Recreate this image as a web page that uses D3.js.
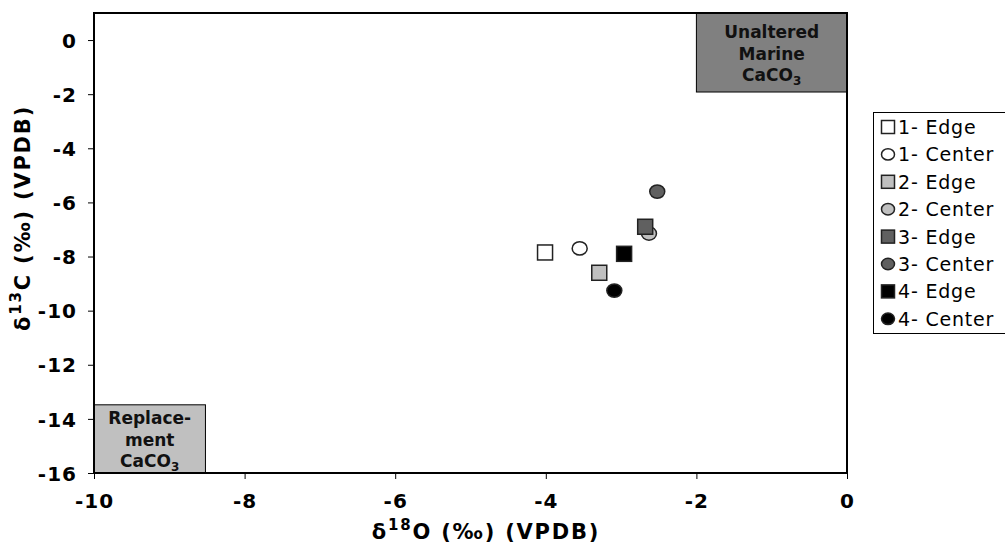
<!DOCTYPE html>
<html><head><meta charset="utf-8">
<script src="https://cdn.jsdelivr.net/npm/d3@7"></script>
<style>body{margin:0;background:#fff;} svg{display:block;}</style>
</head><body>
<script>
const seriesNames = ["1- Edge","1- Center","2- Edge","2- Center","3- Edge","3- Center","4- Edge","4- Center"];
const seriesShapes = ["square","circle","square","circle","square","circle","square","circle"];
const seriesFills = ["#ffffff","#ffffff","#c0c0c0","#c0c0c0","#606060","#606060","#000000","#000000"];
const d18O = [-4.01,-3.55,-3.29,-2.63,-2.68,-2.52,-2.96,-3.09];
const d13C = [-7.85,-7.7,-8.6,-7.15,-6.9,-5.6,-7.9,-9.26];
const xTicks = [-10,-8,-6,-4,-2,0];
const yTicks = [0,-2,-4,-6,-8,-10,-12,-14,-16];
const boxLabels = [["Unaltered","Marine","CaCO3"],["Replace-","ment","CaCO3"]];
const boxX = [[-2,0],[-10,-8.52]];
const boxY = [[1,-1.92],[-13.48,-16]];
const boxFills = ["#808080","#c0c0c0"];

const W=1005,H=545;
const svg=d3.select("body").append("svg").attr("width",W).attr("height",H);
const L=94,R=847,T=13,B=473;
const x=d3.scaleLinear().domain([-10,0]).range([L,R]);
const y=d3.scaleLinear().domain([-16,1]).range([B,T]);
const font="'DejaVu Sans', Verdana, sans-serif";
const fmt=d=>String(d);

// boxes
boxLabels.forEach((lab,i)=>{
  const x0=x(boxX[i][0]), x1=x(boxX[i][1]), y0=y(boxY[i][0]), y1=y(boxY[i][1]);
  svg.append("rect").attr("x",x0).attr("y",y0).attr("width",x1-x0).attr("height",y1-y0)
    .attr("fill",boxFills[i]).attr("stroke","#000").attr("stroke-width",1);
  const cx=(x0+x1)/2, cy=(y0+y1)/2;
  lab.forEach((t,j)=>{
    const tx=svg.append("text").attr("x",cx).attr("y",cy+(j-1)*21.5+7).attr("text-anchor","middle")
      .attr("font-family",font).attr("font-weight","bold").attr("font-size",17).attr("fill","#111");
    if(t==="CaCO3"){ tx.text("CaCO"); tx.append("tspan").attr("font-size",12).attr("dy",4).text("3"); }
    else tx.text(t);
  });
});

// frame
svg.append("rect").attr("x",L).attr("y",T).attr("width",R-L).attr("height",B-T)
  .attr("fill","none").attr("stroke","#000").attr("stroke-width",2);

// axes
const xa=svg.append("g").attr("transform",`translate(0,${B})`)
  .call(d3.axisBottom(x).tickValues(xTicks).tickSize(6).tickFormat(fmt));
const ya=svg.append("g").attr("transform",`translate(${L},0)`)
  .call(d3.axisLeft(y).tickValues(yTicks).tickSize(6).tickFormat(fmt));
[xa,ya].forEach(a=>{
  a.select(".domain").remove();
  a.selectAll("line").attr("stroke","#000").attr("stroke-width",1);
  a.selectAll("text").attr("font-family",font).attr("font-weight","bold").attr("font-size",20)
    .attr("letter-spacing",1).attr("fill","#000");
});
xa.selectAll("text").attr("dy",0).attr("y",35);
ya.selectAll("text").attr("x",-17).attr("dy","0.36em");

// axis titles
const xt=svg.append("text").attr("x",486).attr("y",539).attr("text-anchor","middle")
  .attr("font-family",font).attr("font-weight","bold").attr("font-size",21).attr("letter-spacing",1.8);
xt.append("tspan").text("δ");
xt.append("tspan").attr("font-size",15).attr("dy",-9).text("18");
xt.append("tspan").attr("dy",9).text("O (‰) (VPDB)");
const yt=svg.append("text").attr("transform",`translate(30,218) rotate(-90)`).attr("text-anchor","middle")
  .attr("font-family",font).attr("font-weight","bold").attr("font-size",21).attr("letter-spacing",1.8);
yt.append("tspan").text("δ");
yt.append("tspan").attr("font-size",15).attr("dy",-9).text("13");
yt.append("tspan").attr("dy",9).text("C (‰) (VPDB)");

// marker
function drawMarker(g,shape,cx,cy,fill,s){
  if(shape==="square") g.append("rect").attr("x",cx-s/2).attr("y",cy-s/2).attr("width",s).attr("height",s)
    .attr("fill",fill).attr("stroke","#222").attr("stroke-width",1.5);
  else g.append("ellipse").attr("cx",cx).attr("cy",cy).attr("rx",s/2).attr("ry",s/2-0.8)
    .attr("fill",fill).attr("stroke","#222").attr("stroke-width",1.5);
}
const pts=svg.append("g");
seriesNames.forEach((n,i)=>drawMarker(pts,seriesShapes[i],x(d18O[i]),y(d13C[i]),seriesFills[i],15));

// legend
const lg=svg.append("g");
lg.append("rect").attr("x",873.5).attr("y",112.5).attr("width",140).attr("height",221)
  .attr("fill","#fff").attr("stroke","#000").attr("stroke-width",1);
seriesNames.forEach((n,i)=>{
  const cy=127+i*27.4;
  drawMarker(lg,seriesShapes[i],888,cy,seriesFills[i],13);
  lg.append("text").attr("x",898).attr("y",cy+7).attr("font-family",font).attr("font-size",19)
    .attr("letter-spacing",0.8).attr("fill","#000").text(n);
});
</script>
</body></html>
